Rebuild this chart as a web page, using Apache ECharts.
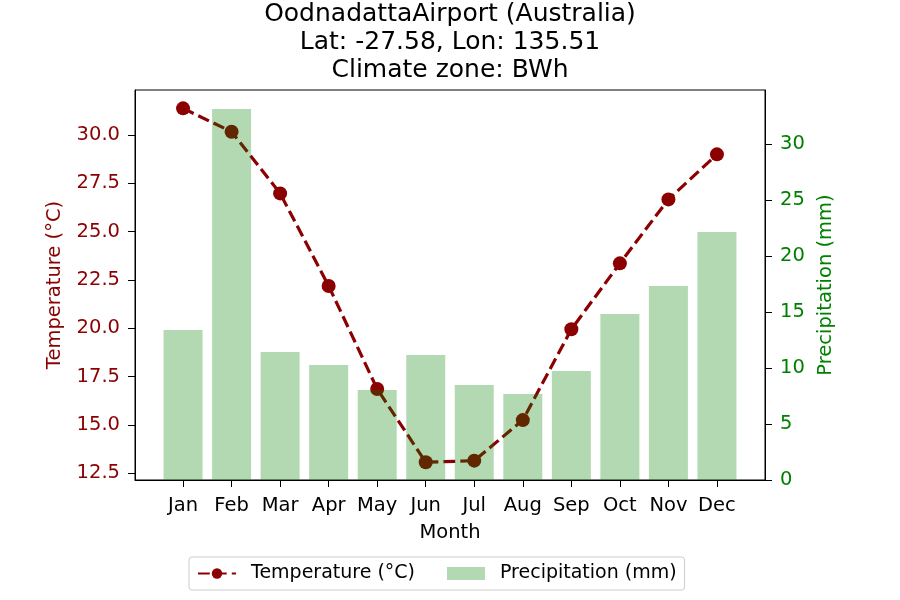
<!DOCTYPE html>
<html>
<head>
<meta charset="utf-8">
<script src="https://cdn.jsdelivr.net/npm/echarts@6/dist/echarts.min.js"></script>
<style>html,body{margin:0;padding:0;background:#fff}#c{width:900px;height:600px}</style>
</head>
<body>
<div id="c"></div>
<script>
const months = ['Jan','Feb','Mar','Apr','May','Jun','Jul','Aug','Sep','Oct','Nov','Dec'];
const temperature = [31.38, 30.17, 26.98, 22.19, 16.86, 13.07, 13.15, 15.25, 19.95, 23.36, 26.67, 29.0];
const precipitation = [13.39, 33.12, 11.43, 10.27, 8.04, 11.16, 8.48, 7.68, 9.73, 14.82, 17.32, 22.14];
const tempTicks = [12.5, 15.0, 17.5, 20.0, 22.5, 25.0, 27.5, 30.0];
const precTicks = [0, 5, 10, 15, 20, 25, 30];
const monthIdx = months.map((m, i) => i);

const FONT = 'DejaVu Sans';
const FS = 19.5;
const chart = echarts.init(document.getElementById('c'), null, {renderer: 'canvas'});
chart.setOption({
  animation: false,
  textStyle: {fontFamily: FONT},
  title: {
    text: 'OodnadattaAirport (Australia)\nLat: -27.58, Lon: 135.51\nClimate zone: BWh',
    left: 'center', top: 0, padding: 0,
    textStyle: {fontFamily: FONT, fontSize: 25, fontWeight: 'normal', color: '#000', lineHeight: 28}
  },
  legend: {
    bottom: 10, left: 189,
    data: [
      {name: 'Temperature (°C)'},
      {name: 'Precipitation (mm)', icon: 'rect'}
    ],
    itemWidth: 38, itemHeight: 13, itemGap: 32,
    backgroundColor: '#fff', borderColor: '#ccc', borderWidth: 1, borderRadius: 3,
    padding: [7, 8, 7, 8],
    textStyle: {fontFamily: FONT, fontSize: 19, color: '#000', padding: [0, 0, 0, 10]}
  },
  grid: {left: 135, right: 135, top: 90, bottom: 120, show: true, borderColor: '#000', borderWidth: 1, backgroundColor: 'transparent'},
  xAxis: {
    type: 'value', min: -0.99, max: 11.99,
    name: 'Month', nameLocation: 'middle', nameGap: 43,
    nameTextStyle: {fontFamily: FONT, fontSize: FS, color: '#000'},
    axisLine: {show: true, onZero: false, lineStyle: {color: '#000', width: 1}},
    axisTick: {show: true, length: 7, lineStyle: {color: '#000'}, customValues: monthIdx},
    axisLabel: {customValues: monthIdx, formatter: v => months[Math.round(v)], fontFamily: FONT, fontSize: FS, color: '#000', margin: 16},
    splitLine: {show: false}
  },
  yAxis: [
    {
      type: 'value', min: 12.15, max: 32.33, position: 'left',
      name: 'Temperature (°C)', nameLocation: 'middle', nameGap: 70,
      nameTextStyle: {fontFamily: FONT, fontSize: FS, color: '#8b0000'},
      axisLine: {show: true, onZero: false, lineStyle: {color: '#000', width: 1}},
      axisTick: {show: true, length: 7, lineStyle: {color: '#000'}, customValues: tempTicks},
      axisLabel: {customValues: tempTicks, formatter: v => v.toFixed(1), fontFamily: FONT, fontSize: FS, color: '#8b0000', margin: 15},
      splitLine: {show: false}
    },
    {
      type: 'value', min: 0, max: 34.82, position: 'right',
      name: 'Precipitation (mm)', nameLocation: 'middle', nameGap: 43,
      nameTextStyle: {fontFamily: FONT, fontSize: FS, color: 'green'},
      axisLine: {show: true, onZero: false, lineStyle: {color: '#000', width: 1}},
      axisTick: {show: true, length: 7, lineStyle: {color: '#000'}, customValues: precTicks},
      axisLabel: {customValues: precTicks, formatter: v => String(v), fontFamily: FONT, fontSize: FS, color: 'green', margin: 15},
      splitLine: {show: false}
    }
  ],
  series: [
    {
      name: 'Temperature (°C)', type: 'line', yAxisIndex: 0, z: 2,
      data: temperature.map((v, i) => [i, v]),
      symbol: 'circle', symbolSize: 14,
      itemStyle: {color: '#8b0000'},
      lineStyle: {color: '#8b0000', width: 3.2, type: [11.8, 5.1]}
    },
    {
      name: 'Precipitation (mm)', type: 'bar', yAxisIndex: 1, z: 3,
      data: precipitation.map((v, i) => [i, v]),
      barWidth: 39,
      itemStyle: {color: 'rgba(0,128,0,0.3)'}
    }
  ]
});
</script>
</body>
</html>
